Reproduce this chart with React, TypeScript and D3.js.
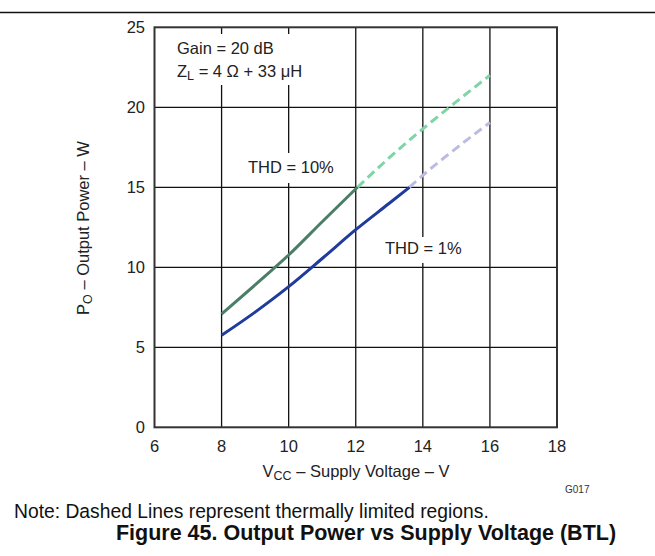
import React from "react";
import * as d3 from "d3";

const xTicks = [6, 8, 10, 12, 14, 16, 18];
const yTicks = [0, 5, 10, 15, 20, 25];

const thd10SolidX = [8, 9, 10, 11, 12.05];
const thd10SolidY = [7.08, 8.9, 10.77, 12.85, 15.0];
const thd10DashX = [12.05, 13, 14, 15, 16];
const thd10DashY = [15.0, 16.85, 18.65, 20.35, 22.0];

const thd1SolidX = [8, 9, 10, 11, 12, 13, 13.6];
const thd1SolidY = [5.75, 7.2, 8.79, 10.55, 12.35, 14.0, 15.0];
const thd1DashX = [13.6, 14, 15, 16];
const thd1DashY = [15.0, 15.75, 17.45, 19.05];

const W = 655;
const H = 556;
const L = 154.5, R = 557, T = 27.3, B = 427.3;

export default function App() {
  const x = d3.scaleLinear().domain([6, 18]).range([L, R]);
  const y = d3.scaleLinear().domain([0, 25]).range([B, T]);
  const line = d3
    .line<[number, number]>()
    .x((d) => x(d[0]))
    .y((d) => y(d[1]))
    .curve(d3.curveMonotoneX);
  const zip = (a: number[], b: number[]) => a.map((v, i) => [v, b[i]] as [number, number]);
  const font = "'Liberation Sans', Arial, sans-serif";
  const tc = "#222";
  const fs = 16.5;

  return (
    <svg
      width={W}
      height={H}
      style={{ position: "absolute", left: 0, top: 0, background: "#fff" }}
      fontFamily={font}
    >
      <rect x={0} y={0} width={W} height={H} fill="#fff" />
      <line x1={0} x2={W} y1={12.5} y2={12.5} stroke="#111" strokeWidth={1.3} />
      {/* grid */}
      {xTicks.slice(1, -1).map((t) => (
        <line key={"gx" + t} x1={x(t)} x2={x(t)} y1={T} y2={B} stroke="#111" strokeWidth={1.3} />
      ))}
      {yTicks.slice(1, -1).map((t) => (
        <line key={"gy" + t} x1={L} x2={R} y1={y(t)} y2={y(t)} stroke="#111" strokeWidth={1.3} />
      ))}
      {/* label backgrounds */}
      <rect x={170} y={34} width={140} height={51} fill="#fff" />
      <rect x={243} y={153} width={97} height={30} fill="#fff" />
      <rect x={380} y={237} width={88} height={26} fill="#fff" />
      {/* curves */}
      <path d={line(zip(thd10DashX, thd10DashY)) || ""} fill="none" stroke="#80d4a6" strokeWidth={3} strokeDasharray="9 5" />
      <path d={line(zip(thd1DashX, thd1DashY)) || ""} fill="none" stroke="#bcbce3" strokeWidth={3} strokeDasharray="9 5" />
      <path d={line(zip(thd10SolidX, thd10SolidY)) || ""} fill="none" stroke="#4b7e66" strokeWidth={3} />
      <path d={line(zip(thd1SolidX, thd1SolidY)) || ""} fill="none" stroke="#1f3b9c" strokeWidth={3} />
      {/* frame */}
      <rect x={L} y={T} width={R - L} height={B - T} fill="none" stroke="#333" strokeWidth={2} />
      {/* ticks */}
      {yTicks.map((t) => (
        <text key={"yt" + t} x={145} y={y(t) + 6} textAnchor="end" fontSize={fs} fill={tc}>
          {t}
        </text>
      ))}
      {xTicks.map((t) => (
        <text key={"xt" + t} x={x(t)} y={452} textAnchor="middle" fontSize={fs} fill={tc}>
          {t}
        </text>
      ))}
      {/* axis titles */}
      <text x={356} y={477} textAnchor="middle" fontSize={fs} fill={tc}>
        V<tspan fontSize={12.5} dy={3}>CC</tspan>
        <tspan dy={-3}> – Supply Voltage – V</tspan>
      </text>
      <text
        transform={`translate(89, 228) rotate(-90)`}
        textAnchor="middle"
        fontSize={fs}
        fill={tc}
      >
        P<tspan fontSize={12.5} dy={3}>O</tspan>
        <tspan dy={-3}> – Output Power – W</tspan>
      </text>
      {/* annotations */}
      <text x={177} y={54} fontSize={fs} fill={tc}>Gain = 20 dB</text>
      <text x={177} y={76.5} fontSize={fs} fill={tc}>
        Z<tspan fontSize={12.5} dy={3}>L</tspan>
        <tspan dy={-3}> = 4 Ω + 33 μH</tspan>
      </text>
      <text x={248} y={172.5} fontSize={fs} fill={tc}>THD = 10%</text>
      <text x={385} y={253.5} fontSize={fs} fill={tc}>THD = 1%</text>
      <text x={565} y={493} fontSize={10} fill="#333">G017</text>
      {/* notes */}
      <text x={14} y={517.5} fontSize={19.3} fill="#111">
        Note: Dashed Lines represent thermally limited regions.
      </text>
      <text x={366} y={540} textAnchor="middle" fontSize={21.5} fontWeight="bold" fill="#111">
        Figure 45. Output Power vs Supply Voltage (BTL)
      </text>
    </svg>
  );
}
